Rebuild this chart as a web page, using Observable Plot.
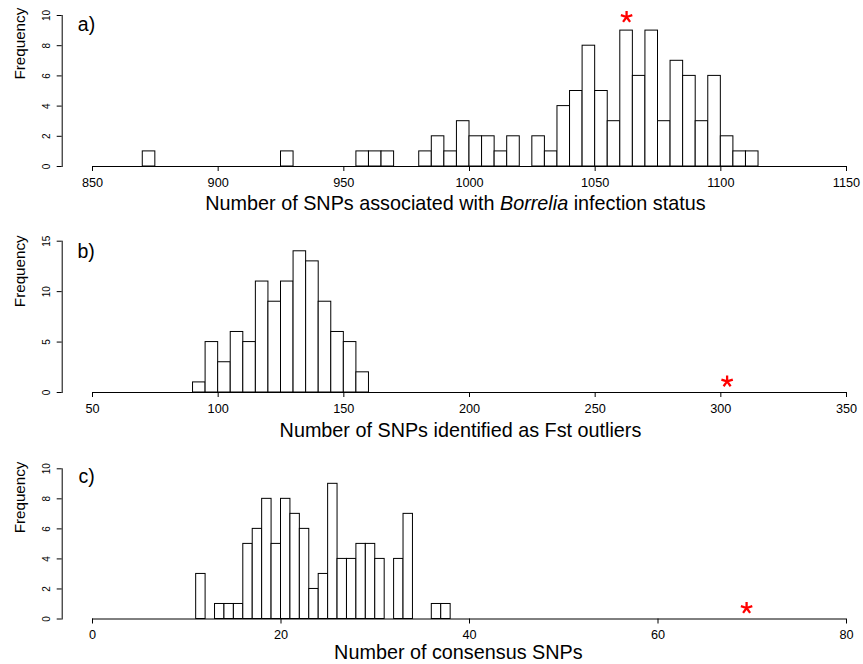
<!DOCTYPE html>
<html>
<head>
<meta charset="utf-8">
<script src="https://cdn.jsdelivr.net/npm/d3@7"></script>
<script src="https://cdn.jsdelivr.net/npm/@observablehq/plot@0.6"></script>
<style>
  html, body { margin: 0; padding: 0; background: #fff; }
  #chart svg { display: block; }
</style>
</head>
<body>
<div id="chart"></div>
<script>
// a) SNPs associated with Borrelia infection status (bins of width 5, empty bins omitted)
const aBinStart = [870, 925, 955, 960, 965, 980, 985, 990, 995, 1000, 1005, 1010, 1015, 1025, 1030,
                   1035, 1040, 1045, 1050, 1055, 1060, 1065, 1070, 1075, 1080, 1085, 1090, 1095, 1100, 1105, 1110];
const aCounts   = [1, 1, 1, 1, 1, 1, 2, 1, 3, 2, 2, 1, 2, 2, 1,
                   4, 5, 8, 5, 3, 9, 6, 9, 3, 7, 6, 3, 6, 2, 1, 1];
const aBinWidth = 5;
const aXTicks = [850, 900, 950, 1000, 1050, 1100, 1150];
const aYTicks = [0, 2, 4, 6, 8, 10];
const aObserved = [{x: 1062.5, y: 9.9}];

// b) SNPs identified as Fst outliers (bins of width 5)
const bBinStart = [90, 95, 100, 105, 110, 115, 120, 125, 130, 135, 140, 145, 150, 155];
const bCounts   = [1, 5, 3, 6, 5, 11, 9, 11, 14, 13, 9, 6, 5, 2];
const bBinWidth = 5;
const bXTicks = [50, 100, 150, 200, 250, 300, 350];
const bYTicks = [0, 5, 10, 15];
const bObserved = [{x: 302.5, y: 1.1}];

// c) consensus SNPs (bins of width 1)
const cBinStart = [11, 13, 14, 15, 16, 17, 18, 19, 20, 21, 22, 23, 24, 25, 26, 27, 28, 29, 30, 32, 33, 36, 37];
const cCounts   = [3, 1, 1, 1, 5, 6, 8, 5, 8, 7, 6, 2, 3, 9, 4, 4, 5, 5, 4, 4, 7, 1, 1];
const cBinWidth = 1;
const cXTicks = [0, 20, 40, 60, 80];
const cYTicks = [0, 2, 4, 6, 8, 10];
const cObserved = [{x: 69.4, y: 0.73}];

const FONT = "'Liberation Sans', Arial, Helvetica, sans-serif";
const aTitle = "Number of SNPs associated with Borrelia infection status";
const bTitle = "Number of SNPs identified as Fst outliers";
const cTitle = "Number of consensus SNPs";

// Filled five-armed asterisk marking the observed value
const asteriskSymbol = {
  draw(context, size) {
    const r = Math.sqrt(size / Math.PI);
    const hw = r * 0.19;
    for (let k = 0; k < 5; k++) {
      const a = -Math.PI / 2 + k * 2 * Math.PI / 5;
      const ux = Math.cos(a), uy = Math.sin(a);
      const px = -uy, py = ux;
      context.moveTo(px * hw, py * hw);
      context.lineTo(ux * r + px * hw, uy * r + py * hw);
      context.lineTo(ux * r - px * hw, uy * r - py * hw);
      context.lineTo(-px * hw, -py * hw);
      context.closePath();
    }
  }
};

function histogramPanel(p) {
  const bins = p.binStart.map((b, i) => ({x1: b, x2: b + p.binWidth, count: p.counts[i]}));
  const xFirst = p.xTicks[0], xLast = p.xTicks[p.xTicks.length - 1];
  return Plot.plot({
    width: 863,
    height: p.height,
    marginLeft: 61.7,
    marginRight: 0,
    marginTop: p.marginTop,
    marginBottom: p.marginBottom,
    style: {fontFamily: FONT, background: "white", color: "black"},
    x: {domain: [xFirst, xLast], range: [92, 846]},
    y: {domain: [p.yTicks[0], p.yTicks[p.yTicks.length - 1]]},
    marks: [
      Plot.frame({anchor: "left", stroke: "black", strokeWidth: 1}),
      Plot.axisY({ticks: p.yTicks, tickFormat: d => String(d), tickSize: 5, tickPadding: 7,
                  tickRotate: -90, fontSize: 10, label: null}),
      Plot.axisX({ticks: p.xTicks, tickFormat: d => String(d), tickSize: 5, tickPadding: 6,
                  fontSize: 12.7, label: null}),
      Plot.ruleY([0], {x1: xFirst, x2: xLast, stroke: "black"}),
      Plot.rect(bins, {x1: "x1", x2: "x2", y1: 0, y2: "count", fill: "white", stroke: "black", strokeWidth: 1}),
      Plot.dot(p.observed, {x: "x", y: "y", r: 6, symbol: asteriskSymbol, fill: "#ff0000", stroke: "none"}),
      Plot.text([p.letter], {frameAnchor: "top-left", textAnchor: "start", lineAnchor: "bottom",
                             dx: p.letterDx, dy: p.letterDy, fontSize: 19.5}),
      Plot.text(["Frequency"], {frameAnchor: "left", rotate: -90, lineAnchor: "bottom",
                                dx: -37.2, dy: p.freqDy, fontSize: 15.2}),
      Plot.text([p.title], {frameAnchor: "bottom", lineAnchor: "bottom",
                            dx: p.titleDx, dy: p.titleDy, fontSize: 19.8})
    ]
  });
}

const chart = document.getElementById("chart");

const svgA = histogramPanel({
  binStart: aBinStart, counts: aCounts, binWidth: aBinWidth, xTicks: aXTicks, yTicks: aYTicks,
  observed: aObserved, letter: "a)", title: aTitle,
  height: 218, marginTop: 15, marginBottom: 52,
  letterDx: 15.6, letterDy: 15.5, freqDy: -11.5, titleDx: -7.4, titleDy: 43.5
});
const svgB = histogramPanel({
  binStart: bBinStart, counts: bCounts, binWidth: bBinWidth, xTicks: bXTicks, yTicks: bYTicks,
  observed: bObserved, letter: "b)", title: bTitle,
  height: 224, marginTop: 22.7, marginBottom: 50,
  letterDx: 15.3, letterDy: 16.8, freqDy: -9.7, titleDx: -2.4, titleDy: 44
});
const svgC = histogramPanel({
  binStart: cBinStart, counts: cCounts, binWidth: cBinWidth, xTicks: cXTicks, yTicks: cYTicks,
  observed: cObserved, letter: "c)", title: cTitle,
  height: 222, marginTop: 26.3, marginBottom: 45.5,
  letterDx: 16.3, letterDy: 14.4, freqDy: -10.6, titleDx: -4.5, titleDy: 40
});

// Set the genus name in italics within the first axis title
d3.select(svgA).selectAll("text")
  .filter(function () { return this.textContent === aTitle; })
  .each(function () {
    const t = d3.select(this);
    t.text(null);
    t.append("tspan").text("Number of SNPs associated with ");
    t.append("tspan").attr("font-style", "italic").text("Borrelia");
    t.append("tspan").text(" infection status");
  });

chart.append(svgA, svgB, svgC);
</script>
</body>
</html>
